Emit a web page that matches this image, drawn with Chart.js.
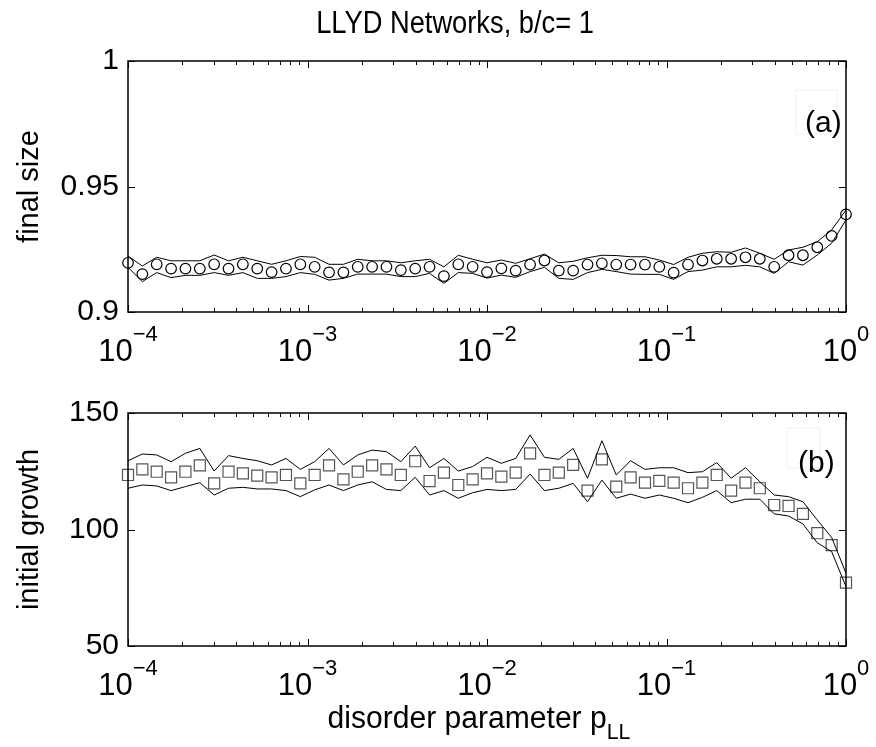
<!DOCTYPE html>
<html>
<head>
<meta charset="utf-8">
<script src="https://cdn.jsdelivr.net/npm/chart.js@4.4.0/dist/chart.umd.min.js"></script>
<style>
  html, body { margin: 0; padding: 0; background: #fff; }
  #wrap { position: relative; width: 876px; height: 747px; }
  canvas { position: absolute; left: 0; }
  #top { top: 0; }
  #bot { top: 380px; }
</style>
</head>
<body>
<div id="wrap">
  <canvas id="top" width="876" height="380"></canvas>
  <canvas id="bot" width="876" height="367"></canvas>
</div>
<script>
// disorder parameter p_LL (log spaced, 1e-4 .. 1)
const pLL = [
  1.000e-4, 1.202e-4, 1.445e-4, 1.738e-4, 2.089e-4, 2.512e-4, 3.020e-4, 3.631e-4, 4.365e-4, 5.248e-4,
  6.310e-4, 7.586e-4, 9.120e-4, 1.096e-3, 1.318e-3, 1.585e-3, 1.905e-3, 2.291e-3, 2.754e-3, 3.311e-3,
  3.981e-3, 4.786e-3, 5.754e-3, 6.918e-3, 8.318e-3, 1.000e-2, 1.202e-2, 1.445e-2, 1.738e-2, 2.089e-2,
  2.512e-2, 3.020e-2, 3.631e-2, 4.365e-2, 5.248e-2, 6.310e-2, 7.586e-2, 9.120e-2, 0.1096, 0.1318,
  0.1585, 0.1905, 0.2291, 0.2754, 0.3311, 0.3981, 0.4786, 0.5754, 0.6918, 0.8318, 1.0
];

// panel (a): final size
const sizeMean = [
  0.9196, 0.9151, 0.9190, 0.9173, 0.9173, 0.9173, 0.9190, 0.9173, 0.9190, 0.9173,
  0.9159, 0.9173, 0.9190, 0.9180, 0.9158, 0.9158, 0.9180, 0.9180, 0.9180, 0.9167,
  0.9173, 0.9180, 0.9143, 0.9190, 0.9180, 0.9159, 0.9174, 0.9165, 0.9189, 0.9205,
  0.9165, 0.9165, 0.9189, 0.9194, 0.9189, 0.9189, 0.9189, 0.9180, 0.9157, 0.9189,
  0.9205, 0.9212, 0.9212, 0.9218, 0.9212, 0.9180, 0.9226, 0.9226, 0.9258, 0.9303, 0.9389
];
const sizeUpper = [
  0.9223, 0.9183, 0.9218, 0.9204, 0.9204, 0.9204, 0.9227, 0.9204, 0.9218, 0.9204,
  0.9190, 0.9204, 0.9221, 0.9218, 0.9190, 0.9190, 0.9210, 0.9204, 0.9204, 0.9196,
  0.9204, 0.9210, 0.9180, 0.9226, 0.9210, 0.9196, 0.9207, 0.9194, 0.9212, 0.9231,
  0.9196, 0.9202, 0.9216, 0.9226, 0.9225, 0.9220, 0.9220, 0.9207, 0.9189, 0.9218,
  0.9234, 0.9240, 0.9238, 0.9255, 0.9234, 0.9210, 0.9247, 0.9258, 0.9280, 0.9327, 0.9406
];
const sizeLower = [
  0.9178, 0.9121, 0.9157, 0.9137, 0.9146, 0.9146, 0.9157, 0.9146, 0.9157, 0.9134,
  0.9134, 0.9141, 0.9157, 0.9150, 0.9127, 0.9134, 0.9151, 0.9151, 0.9151, 0.9141,
  0.9141, 0.9154, 0.9114, 0.9157, 0.9154, 0.9135, 0.9147, 0.9138, 0.9161, 0.9178,
  0.9134, 0.9130, 0.9157, 0.9170, 0.9161, 0.9151, 0.9150, 0.9150, 0.9130, 0.9161,
  0.9167, 0.9180, 0.9180, 0.9186, 0.9180, 0.9154, 0.9200, 0.9187, 0.9227, 0.9274, 0.9367
];

// panel (b): initial growth
const growthMean = [
  123.4, 125.8, 124.8, 122.4, 124.8, 127.5, 119.8, 124.8, 124.1, 123.1,
  122.4, 123.4, 119.8, 123.4, 127.5, 121.5, 124.8, 127.5, 125.8, 123.4,
  129.3, 120.8, 124.4, 119.1, 121.5, 124.1, 122.7, 124.4, 132.7, 123.4,
  124.4, 127.7, 116.7, 130.1, 118.4, 122.4, 120.1, 120.9, 120.1, 117.7,
  120.1, 123.4, 116.7, 120.1, 117.7, 110.5, 110.1, 106.7, 98.4, 93.3, 77.2
];
const growthUpper = [
  129.5, 132.4, 132.0, 129.1, 132.7, 134.8, 125.1, 131.7, 130.5, 129.5,
  127.7, 130.5, 125.8, 129.1, 134.8, 127.7, 132.0, 134.1, 133.4, 129.1,
  135.8, 126.5, 130.5, 125.1, 127.0, 131.0, 128.4, 130.5, 140.6, 131.0,
  130.1, 134.8, 122.0, 138.1, 123.4, 129.5, 125.8, 126.5, 126.5, 124.4,
  124.8, 128.7, 122.0, 126.5, 120.5, 114.8, 114.1, 111.9, 104.1, 96.6, 81.2
];
const growthLower = [
  117.7, 119.1, 118.7, 116.7, 118.4, 120.1, 114.8, 117.7, 118.1, 117.4,
  117.4, 116.7, 114.1, 117.0, 119.1, 116.7, 119.1, 120.5, 117.2, 116.7,
  122.4, 114.8, 116.7, 113.4, 115.8, 117.2, 116.7, 117.2, 123.8, 116.7,
  117.7, 119.8, 111.9, 121.2, 113.4, 115.2, 113.4, 114.8, 113.4, 111.5,
  113.8, 116.7, 111.5, 113.0, 113.0, 106.7, 105.8, 102.4, 94.3, 90.5, 75.5
];

// axes ticks
const xExponents = [-4, -3, -2, -1, 0];
const sizeTicks = [0.9, 0.95, 1];
const sizeTickLabels = ['0.9', '0.95', '1'];
const growthTicks = [50, 100, 150];
const growthTickLabels = ['50', '100', '150'];

const FONT = "'Liberation Sans', Arial, Helvetica, sans-serif";

function pts(vals) {
    return vals.map((v, i) => ({ x: pLL[i], y: v }));
}

// text with a raised/lowered part, centred on cx; sx squeezes it sideways
function drawScript(ctx, base, extra, cx, y, baseSize, extraSize, dy, sx) {
    sx = sx || 1;
    ctx.save();
    ctx.font = baseSize + 'px ' + FONT;
    const wb = ctx.measureText(base).width;
    ctx.font = extraSize + 'px ' + FONT;
    const we = ctx.measureText(extra).width;
    ctx.translate(cx, y);
    ctx.scale(sx, 1);
    const x0 = -(wb + we) / 2;
    ctx.textAlign = 'left';
    ctx.textBaseline = 'alphabetic';
    ctx.font = baseSize + 'px ' + FONT;
    ctx.fillText(base, x0, 0);
    ctx.font = extraSize + 'px ' + FONT;
    ctx.fillText(extra, x0 + wb, dy);
    ctx.restore();
}

function decoPlugin(cfg) {
    return {
        id: 'deco',
        afterDraw(chart) {
            const ctx = chart.ctx;
            const a = chart.chartArea;
            const xs = chart.scales.x, ys = chart.scales.y;
            ctx.save();
            ctx.fillStyle = '#000';

            // faint label box + panel letter
            ctx.strokeStyle = '#f0f0f0';
            ctx.lineWidth = 1;
            ctx.strokeRect(cfg.letterBox[0], cfg.letterBox[1], cfg.letterBox[2], cfg.letterBox[3]);
            ctx.strokeStyle = '#000';
            ctx.font = '30px ' + FONT;
            ctx.textAlign = 'left';
            ctx.textBaseline = 'middle';
            ctx.fillText(cfg.letter, cfg.letterPos[0], cfg.letterPos[1]);

            // axes box
            ctx.lineWidth = 1.5;
            ctx.strokeRect(a.left, a.top, a.right - a.left, a.bottom - a.top);

            // x ticks (major + minor) bottom and top, y ticks left and right
            ctx.lineWidth = 1;
            ctx.beginPath();
            xExponents.forEach(e => {
                const px = Math.round(xs.getPixelForValue(Math.pow(10, e))) + 0.5;
                ctx.moveTo(px, a.bottom); ctx.lineTo(px, a.bottom - 7);
                ctx.moveTo(px, a.top); ctx.lineTo(px, a.top + 7);
                if (e < 0) {
                    for (let m = 2; m <= 9; m++) {
                        const q = Math.round(xs.getPixelForValue(m * Math.pow(10, e))) + 0.5;
                        ctx.moveTo(q, a.bottom); ctx.lineTo(q, a.bottom - 4);
                        ctx.moveTo(q, a.top); ctx.lineTo(q, a.top + 4);
                    }
                }
            });
            cfg.yTicks.forEach(t => {
                const py = Math.round(ys.getPixelForValue(t)) + 0.5;
                ctx.moveTo(a.left, py); ctx.lineTo(a.left + 7, py);
                ctx.moveTo(a.right, py); ctx.lineTo(a.right - 7, py);
            });
            ctx.stroke();

            // y tick labels
            ctx.font = '30px ' + FONT;
            ctx.textAlign = 'right';
            ctx.textBaseline = 'middle';
            cfg.yTicks.forEach((t, i) => {
                ctx.fillText(cfg.yLabels[i], a.left - 9, ys.getPixelForValue(t));
            });

            // x tick labels 10^e
            xExponents.forEach(e => {
                const px = xs.getPixelForValue(Math.pow(10, e));
                const sup = e < 0 ? '\u2212' + (-e) : String(e);
                drawScript(ctx, '10', sup, px, a.bottom + 49, 31, 22, -20);
            });

            // y axis title
            ctx.save();
            ctx.translate(cfg.yTitleX, (a.top + a.bottom) / 2);
            ctx.rotate(-Math.PI / 2);
            ctx.font = '29px ' + FONT;
            ctx.textAlign = 'center';
            ctx.textBaseline = 'middle';
            ctx.fillText(cfg.yTitle, 0, 0);
            ctx.restore();

            if (cfg.title) {
                ctx.save();
                ctx.translate(455, 33);
                ctx.scale(0.88, 1);
                ctx.font = '31px ' + FONT;
                ctx.textAlign = 'center';
                ctx.textBaseline = 'alphabetic';
                ctx.fillText(cfg.title, 0, 0);
                ctx.restore();
            }
            if (cfg.xTitle) {
                drawScript(ctx, 'disorder parameter p', 'LL', 479, a.bottom + 82, 31, 22, 11, 0.97);
            }
            ctx.restore();
        }
    };
}

function makePanel(id, cfg) {
    new Chart(document.getElementById(id), {
        type: 'line',
        data: {
            datasets: [
                { data: pts(cfg.upper), borderColor: '#000', borderWidth: 1, pointRadius: 0, tension: 0, fill: false, clip: false },
                { data: pts(cfg.lower), borderColor: '#000', borderWidth: 1, pointRadius: 0, tension: 0, fill: false, clip: false },
                {
                    data: pts(cfg.mean), showLine: false, pointStyle: cfg.marker, pointRadius: cfg.radius,
                    borderColor: cfg.markerColor, pointBorderColor: cfg.markerColor, pointBorderWidth: 1.2,
                    pointBackgroundColor: 'rgba(0,0,0,0)', backgroundColor: 'rgba(0,0,0,0)', clip: false
                }
            ]
        },
        options: {
            responsive: false,
            animation: false,
            devicePixelRatio: 1,
            layout: { padding: cfg.pad },
            plugins: { legend: { display: false }, tooltip: { enabled: false } },
            scales: {
                x: { type: 'logarithmic', min: 1e-4, max: 1, display: false },
                y: { type: 'linear', min: cfg.yTicks[0], max: cfg.yTicks[cfg.yTicks.length - 1], display: false }
            }
        },
        plugins: [decoPlugin(cfg)]
    });
}

makePanel('top', {
    mean: sizeMean, upper: sizeUpper, lower: sizeLower,
    marker: 'circle', radius: 5.3, markerColor: '#000',
    yTicks: sizeTicks, yLabels: sizeTickLabels,
    yTitle: 'final size', yTitleX: 30,
    title: 'LLYD Networks, b/c= 1',
    letter: '(a)', letterPos: [805, 124], letterBox: [796, 90, 41, 44],
    pad: { left: 128, right: 30, top: 61, bottom: 68 }
});

makePanel('bot', {
    mean: growthMean, upper: growthUpper, lower: growthLower,
    marker: 'rect', radius: 7.8, markerColor: '#555',
    yTicks: growthTicks, yLabels: growthTickLabels,
    yTitle: 'initial growth', yTitleX: 30,
    xTitle: true,
    letter: '(b)', letterPos: [798, 84], letterBox: [787, 48, 33, 40],
    pad: { left: 128, right: 30, top: 33, bottom: 101 }
});
</script>
</body>
</html>
